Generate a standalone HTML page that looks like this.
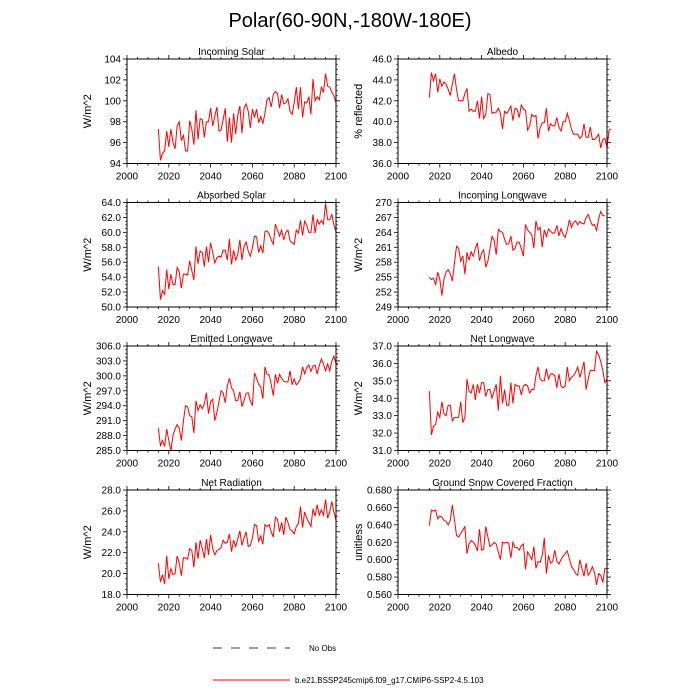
<!DOCTYPE html>
<html><head><meta charset="utf-8">
<style>
html,body{margin:0;padding:0;background:#fff;}
svg{display:block;font-family:"Liberation Sans",sans-serif;}
</style></head>
<body>
<svg id="chart" width="700" height="700" viewBox="0 0 700 700">
<text x="350" y="27" text-anchor="middle" font-size="20">Polar(60-90N,-180W-180E)</text>
<g id="panels"></g>
<g>
<line x1="213" y1="648" x2="290" y2="648" stroke="#000" stroke-width="0.8" stroke-dasharray="9,9"/>
<text x="309" y="651" font-size="8">No Obs</text>
<line x1="213" y1="680" x2="290" y2="680" stroke="#f00" stroke-width="1"/>
<text x="295" y="683" font-size="8">b.e21.BSSP245cmip6.f09_g17.CMIP6-SSP2-4.5.103</text>
</g>
</svg>
<script>
const startYear = 2015;
const xTicks = [2000, 2020, 2040, 2060, 2080, 2100];
const incomingSolar = [97.3,94.3,95,95.2,97.1,95.6,97.3,96,95.4,97.6,98,96.2,96.7,95.2,95.2,98.1,97.3,95.8,99.1,96.3,98.3,98.2,96.5,98,98,99.3,97.6,98.5,99.4,97.1,97.2,98.2,99.3,96.1,98.4,96,98.8,96.8,98.6,99.5,96.9,99.3,99.7,99,97.4,99.2,98.4,99.2,97.9,98.5,97.8,98.8,100.1,100.3,99.4,100.6,100.9,100.7,99.3,100.6,99.7,99.8,100.2,99,98.7,99.8,101.3,99.2,101.3,98.4,99.9,99.8,100.4,98.7,102.1,100,100.4,100.1,101.3,100.8,102.6,101.4,101.3,100.8,100.5,99.8];
const albedo = [42.3,44.7,43.9,44.6,42.8,44.1,43.4,43.8,43.6,43.1,42.5,43.6,44.6,43.1,42,42,42,42.7,43.2,41,41.2,41,41,42,40.3,42.4,40.3,40.7,42.7,42.6,40.8,40.9,40.9,41.3,40.8,39.3,41,40.8,41.1,41.5,40.1,41.3,41.2,40.4,41.6,41.2,41.1,39.2,39.6,40.7,40.5,40.6,38.4,39.4,39.9,39.9,41.3,39.1,39.8,39.6,39.6,40.4,39.5,39.1,40,40,40.8,40.1,39.3,38.8,38.8,38.8,38.4,38.6,39.8,38.5,38.5,39.5,38.3,38.3,38.5,38.8,37.5,38.3,38.4,37.5,39.2,39.3];
const absorbedSolar = [55.4,51,52.2,51.7,55,52.4,54.4,53,53,55.3,54.7,52.5,54.4,54.4,54.3,56.2,54.9,53.6,58.1,55.8,57.5,57.3,55.4,58.1,56,58.6,57.3,55.9,56.6,56.8,56.7,57.6,57.6,56.3,59.1,55.7,57.6,56.3,57,59,56.3,58.1,58.7,57.5,56.8,57.9,59.5,59.4,57.3,58.2,57.2,60.1,60.2,59.8,59,58.4,61.1,60.3,59.5,60.3,59,60,60.3,58.9,58.6,58.4,60.3,59.9,61.6,59.6,61.5,61,60,60,62.4,59.9,61.7,61.1,61.6,61.1,63.9,61.7,61.7,62.4,61,60.1];
const incomingLongwave = [255,254.5,254.8,253.4,256,254.6,251.3,254.6,256,256.5,255.7,254.2,257.8,261.2,260.8,258.2,259.3,255.6,260,258.4,260.1,259.2,260.8,261.9,258.3,259.8,260.5,257,258.2,260.7,263.2,262.4,259.5,264.6,264.2,264,262.6,261.6,261.7,263.3,260.4,260.8,262.1,262,260.8,259.2,265.6,264.5,264,263.5,260.8,266.3,264.5,265,261,264.5,263.2,264.7,264.2,263.8,264,265.4,263.3,264.8,263.6,263,264.5,266.5,265,266,266.3,265.5,266.2,265.8,265.7,267,267.6,266.4,265.4,265.6,264.4,266.7,268.2,267.4,267.3];
const emittedLongwave = [289.5,286,287,285.8,289.3,287,285,288,289.3,290.2,289.5,287,291,294,293.8,292,291.8,288.5,295,293,294.2,293.4,294.4,296.6,292.4,294.8,295.3,291,292.6,294.8,297,296.6,294.6,298,299.5,297.6,297,295,295.1,296.8,293.8,295,296.5,296.6,295,294,300.6,299.5,298.3,297.8,295.4,301.8,300.3,300.2,298.3,296,300.3,298.5,300.3,299.5,298.9,298.8,298.8,301,298.2,299.4,298.2,298.6,299.5,301.8,300.4,301.7,302.2,300.9,302,302.1,300.4,302.1,303.4,302.4,301,302.4,301,302.9,304,302.4,302.5];
const netLongwave = [34.4,31.9,32.4,32.5,33.2,32.9,33.8,33.1,33,33.6,33.6,32.7,32.9,32.9,32.9,33.8,32.6,32.9,35.1,34.4,34.3,34.8,33.9,34.8,34.3,34.9,34.9,34.1,34.5,34.5,34,34.4,34.8,33.3,35.3,33.7,34.5,33.6,33.6,34.9,33.7,34.8,34.7,34.7,34.2,34.7,34.8,34.7,34.3,34.5,34.5,35.3,35.8,35.1,35,35,35.7,35.1,35.4,35.4,35.3,34.6,35.4,34.7,34.6,34.7,35.8,35,35.2,35.3,35.5,35.8,35.2,35.6,36.1,34.5,35.1,35.6,35.6,35.6,36.7,36.5,36.1,35.6,34.9,35.1];
const netRadiation = [21,19.2,19.9,19,21.7,19.5,20.5,19.9,20,21.7,21,19.8,21.5,21.5,21.4,22.4,22.2,20.6,23,21.4,23.2,22.4,21.5,23.3,21.8,23.7,22.4,21.8,22.2,22.3,22.5,23.2,22.9,23,23.8,22.1,23.2,22.6,23.3,24.1,22.7,23.4,24,22.6,22.7,23.4,24.7,24.6,23.1,23.6,22.8,24.7,24.5,24.7,24,23.5,25.4,25.2,24,24.9,23.7,25.4,24.9,24.2,24.1,23.8,24.5,24.8,26.4,24.4,25.9,25.3,24.9,24.5,26.2,25.5,26.6,25.6,26.1,25.6,27.1,25.3,25.9,26.9,25.9,25.1];
const snowFraction = [0.639,0.657,0.656,0.657,0.647,0.650,0.649,0.645,0.644,0.640,0.645,0.663,0.646,0.628,0.626,0.630,0.634,0.638,0.607,0.618,0.622,0.620,0.617,0.610,0.635,0.611,0.612,0.638,0.626,0.615,0.617,0.620,0.618,0.609,0.600,0.620,0.619,0.620,0.619,0.602,0.620,0.614,0.614,0.611,0.616,0.618,0.589,0.609,0.605,0.600,0.615,0.590,0.598,0.597,0.605,0.625,0.584,0.605,0.596,0.598,0.611,0.598,0.595,0.600,0.604,0.607,0.610,0.601,0.592,0.589,0.584,0.582,0.600,0.590,0.581,0.596,0.582,0.586,0.592,0.585,0.571,0.584,0.582,0.574,0.590,0.590];

const ticksInSolar = [94,96,98,100,102,104];
const ticksAlbedo = [36,38,40,42,44,46];
const ticksAbsorbed = [50,52,54,56,58,60,62,64];
const ticksInLW = [249,252,255,258,261,264,267,270];
const ticksEmitted = [285,288,291,294,297,300,303,306];
const ticksNetLW = [31,32,33,34,35,36,37];
const ticksNetRad = [18,20,22,24,26,28];
const ticksSnow = [0.56,0.58,0.6,0.62,0.64,0.66,0.68];

const panelDefs = [
 {name:'incoming-solar',title:'Incoming Solar',ylab:'W/m^2',data:incomingSolar,ticks:ticksInSolar,dec:0,col:0,row:0},
 {name:'albedo',title:'Albedo',ylab:'% reflected',data:albedo,ticks:ticksAlbedo,dec:1,col:1,row:0},
 {name:'absorbed-solar',title:'Absorbed Solar',ylab:'W/m^2',data:absorbedSolar,ticks:ticksAbsorbed,dec:1,col:0,row:1},
 {name:'incoming-longwave',title:'Incoming Longwave',ylab:'W/m^2',data:incomingLongwave,ticks:ticksInLW,dec:0,col:1,row:1},
 {name:'emitted-longwave',title:'Emitted Longwave',ylab:'W/m^2',data:emittedLongwave,ticks:ticksEmitted,dec:1,col:0,row:2},
 {name:'net-longwave',title:'Net Longwave',ylab:'W/m^2',data:netLongwave,ticks:ticksNetLW,dec:1,col:1,row:2},
 {name:'net-radiation',title:'Net Radiation',ylab:'W/m^2',data:netRadiation,ticks:ticksNetRad,dec:1,col:0,row:3},
 {name:'snow-fraction',title:'Ground Snow Covered Fraction',ylab:'unitless',data:snowFraction,ticks:ticksSnow,dec:3,col:1,row:3}
];

const NS='http://www.w3.org/2000/svg';
const colX=[127,398], W=209;
const rowTop=[59,202.5,346,490], H=104.5;
const root=document.getElementById('panels');
function mk(tag,attrs,parent){const e=document.createElementNS(NS,tag);for(const k in attrs)e.setAttribute(k,attrs[k]);parent.appendChild(e);return e;}

panelDefs.forEach(p=>{
  const x0=colX[p.col], y0=rowTop[p.row];
  const g=mk('g',{},root);
  
  
  const ymin=p.ticks[0], ymax=p.ticks[p.ticks.length-1];
  const sx=v=>x0+(v-2000)/100*W;
  const sy=v=>y0+H-(v-ymin)/(ymax-ymin)*H;
  // minor x ticks
  for(let yr=2000;yr<=2100;yr+=5){
    const len=(yr%20===0)?4:2;
    mk('line',{x1:sx(yr),x2:sx(yr),y1:y0+H,y2:y0+H+len,stroke:'#000','stroke-width':0.8},g);
    mk('line',{x1:sx(yr),x2:sx(yr),y1:y0,y2:y0-len,stroke:'#000','stroke-width':0.8},g);
  }
  xTicks.forEach(t=>{
    const tx=mk('text',{x:sx(t),y:y0+H+16,'text-anchor':'middle','font-size':10},g);
    tx.textContent=t;
    
    
  });
  // y ticks
  const step=p.ticks[1]-p.ticks[0];
  for(let i=0;i<p.ticks.length;i++){
    const t=p.ticks[i];
    mk('line',{x1:x0,x2:x0-4,y1:sy(t),y2:sy(t),stroke:'#000','stroke-width':0.8},g);
    mk('line',{x1:x0+W,x2:x0+W+4,y1:sy(t),y2:sy(t),stroke:'#000','stroke-width':0.8},g);
    if(i<p.ticks.length-1){for(let k=1;k<4;k++){const v=t+step*k/4;
      mk('line',{x1:x0,x2:x0-2,y1:sy(v),y2:sy(v),stroke:'#000','stroke-width':0.6},g);
      mk('line',{x1:x0+W,x2:x0+W+2,y1:sy(v),y2:sy(v),stroke:'#000','stroke-width':0.6},g);}}
    const ty=mk('text',{x:x0-6,y:sy(t)+3.5,'text-anchor':'end','font-size':10},g);
    ty.textContent=t.toFixed(p.dec);
    
    
  }
  // series
  const pts=p.data.map((v,i)=>sx(startYear+i).toFixed(2)+','+sy(v).toFixed(2)).join(' ');
  const pl=mk('polyline',{points:pts,fill:'none',stroke:'#f00','stroke-width':1},g);
  
  
  // frame
  const fr=mk('rect',{x:x0,y:y0,width:W,height:H,fill:'none',stroke:'#000','stroke-width':1},g);
  
  
  const tt=mk('text',{x:x0+W/2,y:y0-4,'text-anchor':'middle','font-size':10},g);
  tt.textContent=p.title;
  
  
  const yl=mk('text',{x:0,y:0,'text-anchor':'middle','font-size':11,transform:'translate('+(x0-36)+','+(y0+H/2)+') rotate(-90)'},g);
  yl.textContent=p.ylab;
  
  
});
</script>
</body></html>
